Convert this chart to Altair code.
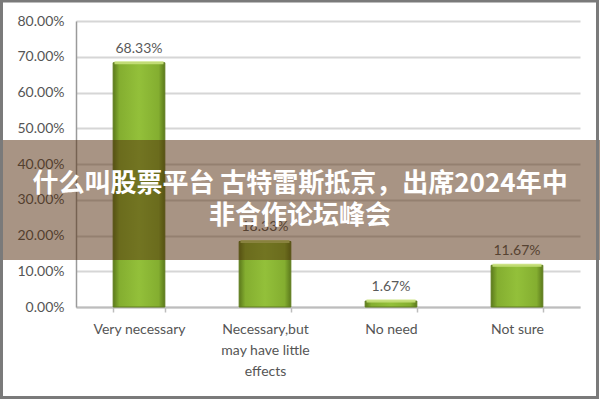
import altair as alt
import pandas as pd

categories = ["Very necessary", "Necessary,but may have little effects", "No need", "Not sure"]
label_lines = [["Very necessary"], ["Necessary,but", "may have little", "effects"], ["No need"], ["Not sure"]]
values = [68.33, 18.33, 1.67, 11.67]
labels = ["68.33%", "18.33%", "1.67%", "11.67%"]
y_ticks = [0, 10, 20, 30, 40, 50, 60, 70, 80]
overlay_line1 = "什么叫股票平台 古特雷斯抵京，出席2024年中"
overlay_line2 = "非合作论坛峰会"

df = pd.DataFrame({"cat": categories, "value": values, "label": labels})

W, H = 504, 286
PL, PT, PR, PB = 76, 21, 20, 93

label_expr = "{" + ",".join(
    f"'{c}': [" + ",".join(f"'{l}'" for l in ls) + "]" for c, ls in zip(categories, label_lines)
) + "}[datum.value]"

xs = alt.Scale(paddingInner=0.59, paddingOuter=0.295)
ys = alt.Scale(domain=[0, 80], nice=False)

x = alt.X("cat:N", sort=categories, title=None, scale=xs,
          axis=alt.Axis(labelAngle=0, labelExpr=label_expr, labelFont="Lato", labelFontSize=14,
                        labelColor="#555555", labelPadding=10, labelLineHeight=21,
                        domainColor="#bdbdbd", domainWidth=2, tickColor="#bdbdbd",
                        tickBand="extent", tickSize=5, tickWidth=1.5))
y = alt.Y("value:Q", title=None, scale=ys,
          axis=alt.Axis(values=y_ticks, labelExpr="format(datum.value, '.2f') + '%'",
                        labelOverlap=False, labelFlush=False,
                        labelFont="Lato", labelFontSize=14, labelColor="#555555",
                        labelPadding=12, tickSize=0, domainColor="#9a9a9a", domainWidth=1.5,
                        gridColor="#d6d6d6", gridWidth=2))

grad = alt.Gradient(gradient="linear", x1=0, x2=1, y1=0, y2=0, stops=[
    alt.GradientStop(color="#5c7a1c", offset=0),
    alt.GradientStop(color="#84ae30", offset=0.12),
    alt.GradientStop(color="#93c03a", offset=0.5),
    alt.GradientStop(color="#84ae30", offset=0.88),
    alt.GradientStop(color="#5c7a1c", offset=1),
])

bars = alt.Chart(df).mark_bar(color=grad, stroke="#5f7d1c", strokeWidth=1).encode(x=x, y=y)
caps = alt.Chart(df).mark_tick(color="#c9e27c", thickness=3, size=49, opacity=0.9).encode(x=x, y=y)
text = alt.Chart(df).mark_text(dy=-14, font="Lato", fontSize=14, color="#5a5a5a").encode(
    x=x, y=y, text="label:N")

band = alt.Chart(pd.DataFrame({"a": [0]})).mark_rect(color="#52290a", opacity=0.5).encode(
    x=alt.value(-PL), x2=alt.value(W + PR), y=alt.value(140 - PT), y2=alt.value(260 - PT))

def overlay(line, ypix):
    return alt.Chart(pd.DataFrame({"t": [line]})).mark_text(
        font="Noto Sans CJK SC", fontSize=26, fontWeight="bold", color="white", align="center",
        baseline="middle").encode(x=alt.value(300 - PL), y=alt.value(ypix - PT), text="t:N")

frame = alt.Chart(pd.DataFrame({"a": [0]})).mark_rect(fill=None, stroke="#7a7a7a", strokeWidth=3).encode(
    x=alt.value(-PL + 1.5), x2=alt.value(W + PR - 2.5), y=alt.value(-PT + 1), y2=alt.value(H + PB - 2.5))

chart = alt.layer(bars, caps, text, band, overlay(overlay_line1, 184), overlay(overlay_line2, 216), frame).properties(
    width=W, height=H,
    autosize=alt.AutoSizeParams(type="none"),
    padding={"left": PL, "top": PT, "right": PR, "bottom": PB},
    background="white",
).configure_view(stroke=None)

chart.save("out.html", embed_options={"renderer": "svg", "actions": False})
